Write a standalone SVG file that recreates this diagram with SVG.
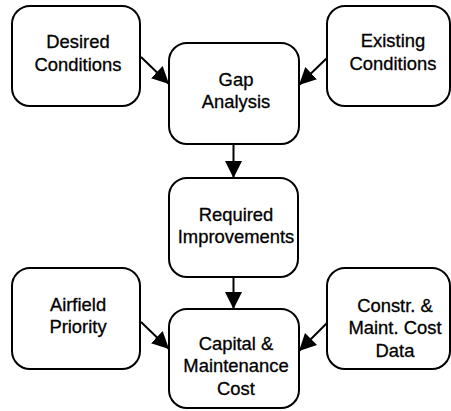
<svg xmlns="http://www.w3.org/2000/svg" width="451" height="411" viewBox="0 0 451 411">
  <style>
    .box { fill: #ffffff; stroke: #000000; stroke-width: 2; }
    .lbl { font-family: "Liberation Sans", Arial, sans-serif; font-size: 18.4px; fill: #000000; stroke: #000000; stroke-width: 0.3; text-anchor: middle; }
    .edge { stroke: #000000; stroke-width: 2; fill: none; marker-end: url(#arrow); }
  </style>
  <defs>
    <marker id="arrow" markerUnits="userSpaceOnUse" markerWidth="18" markerHeight="18" refX="17" refY="8.5" orient="auto">
      <path d="M0,0 L17,8.5 L0,17 z" fill="#000000"/>
    </marker>
  </defs>
  <rect width="451" height="411" fill="#ffffff"/>

  <g id="connectors">
    <line class="edge" x1="141" y1="57" x2="169" y2="84"/>
    <line class="edge" x1="327" y1="58" x2="299" y2="85"/>
    <line class="edge" x1="233.5" y1="145" x2="233.5" y2="178"/>
    <line class="edge" x1="233.5" y1="278" x2="233.5" y2="309"/>
    <line class="edge" x1="141" y1="322" x2="169" y2="349"/>
    <line class="edge" x1="327" y1="323" x2="299" y2="351"/>
  </g>

  <g id="desired-conditions">
    <rect class="box" x="12" y="6" width="128" height="100" rx="18"/>
    <text class="lbl" x="78" y="48">Desired</text>
    <text class="lbl" x="78" y="71">Conditions</text>
  </g>

  <g id="existing-conditions">
    <rect class="box" x="327" y="6" width="123" height="100" rx="18"/>
    <text class="lbl" x="393" y="47">Existing</text>
    <text class="lbl" x="393" y="70">Conditions</text>
  </g>

  <g id="gap-analysis">
    <rect class="box" x="169" y="43" width="130" height="101" rx="18"/>
    <text class="lbl" x="236" y="86">Gap</text>
    <text class="lbl" x="236" y="108">Analysis</text>
  </g>

  <g id="required-improvements">
    <rect class="box" x="169" y="178" width="129" height="99" rx="18"/>
    <text class="lbl" x="236" y="221">Required</text>
    <text class="lbl" x="236" y="243">Improvements</text>
  </g>

  <g id="airfield-priority">
    <rect class="box" x="12" y="268" width="128" height="101" rx="18"/>
    <text class="lbl" x="78" y="311">Airfield</text>
    <text class="lbl" x="78" y="333">Priority</text>
  </g>

  <g id="capital-maintenance-cost">
    <rect class="box" x="169" y="309" width="130" height="99" rx="18"/>
    <text class="lbl" x="236" y="350">Capital &amp;</text>
    <text class="lbl" x="236" y="372">Maintenance</text>
    <text class="lbl" x="236" y="395">Cost</text>
  </g>

  <g id="cost-data">
    <rect class="box" x="327" y="268" width="123" height="101" rx="18"/>
    <text class="lbl" x="395" y="312">Constr. &amp;</text>
    <text class="lbl" x="395" y="334">Maint. Cost</text>
    <text class="lbl" x="395" y="357">Data</text>
  </g>
</svg>
